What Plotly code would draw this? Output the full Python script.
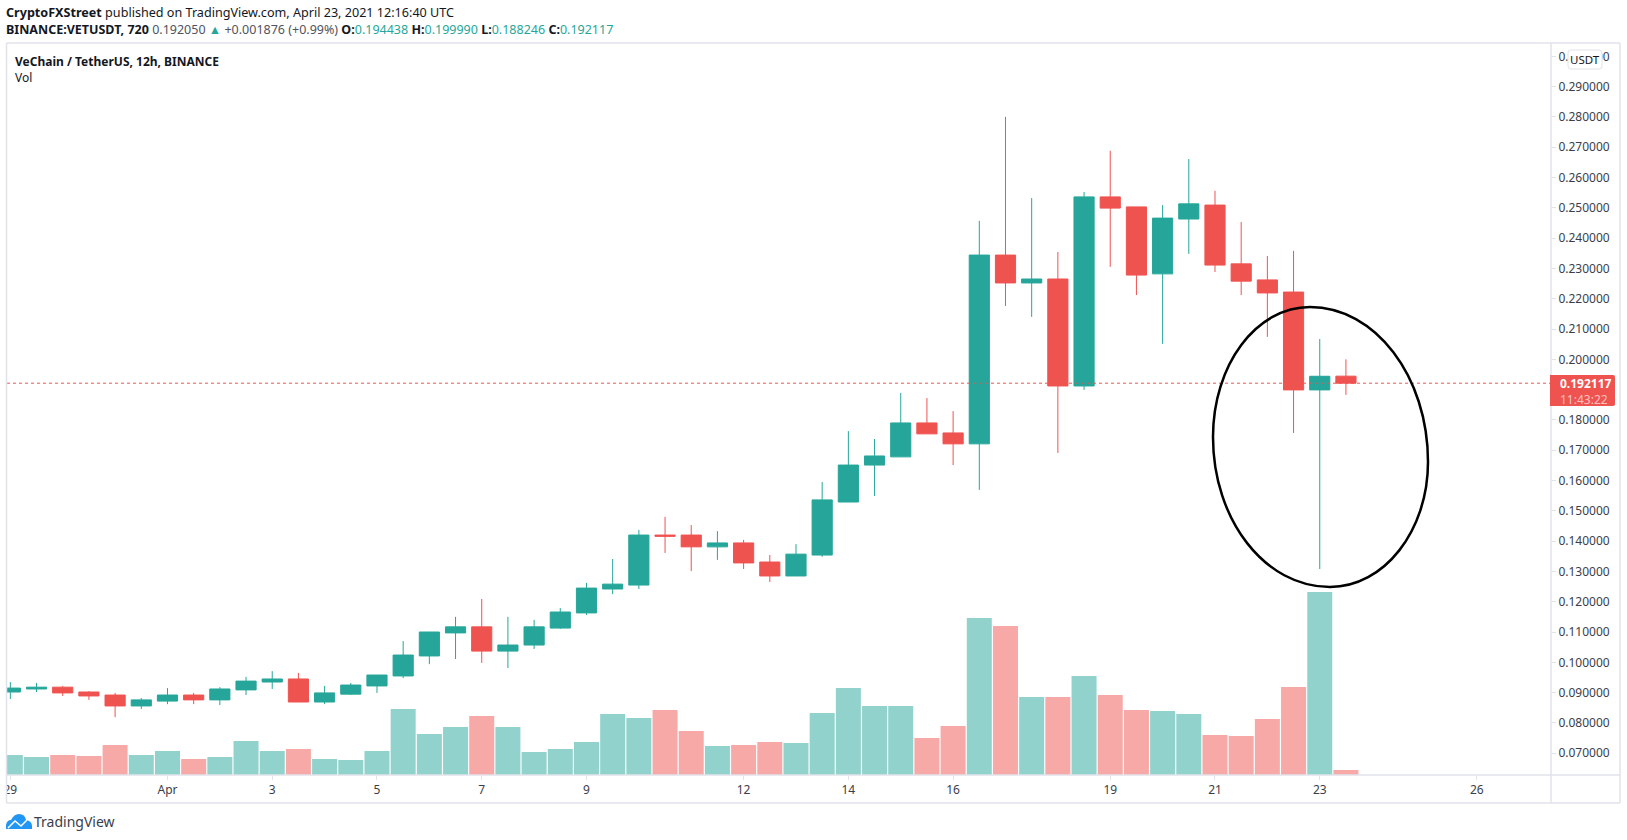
"""VETUSDT 12h, TradingView snapshot (CryptoFXStreet, April 23 2021)."""

import pandas as pd
import plotly.graph_objects as go

candle_time = pd.date_range("2021-03-29", periods=52, freq="12h")

candle_open = [
    0.0902, 0.0912, 0.0918, 0.0902, 0.0892, 0.0856, 0.0872, 0.0892, 0.0876, 0.0909,
    0.0935, 0.0945, 0.0869, 0.0895, 0.0922, 0.0955, 0.1021, 0.1097, 0.1117, 0.1037,
    0.1057, 0.1113, 0.1163, 0.1242, 0.1255, 0.1420, 0.1420, 0.1381, 0.1394, 0.1331,
    0.1285, 0.1354, 0.1529, 0.1651, 0.1678, 0.1790, 0.1757, 0.1721, 0.2344, 0.2252,
    0.2265, 0.1912, 0.2536, 0.2503, 0.2282, 0.2463, 0.2509, 0.2315, 0.2262, 0.2222,
    0.1899, 0.194438,
]
candle_high = [
    0.0935, 0.0932, 0.0922, 0.0905, 0.0899, 0.0882, 0.0915, 0.0899, 0.0918, 0.0952,
    0.0971, 0.0965, 0.0922, 0.0932, 0.0958, 0.1070, 0.1100, 0.1150, 0.1209, 0.1150,
    0.1140, 0.1179, 0.1262, 0.1341, 0.1437, 0.1480, 0.1453, 0.1433, 0.1404, 0.1354,
    0.1390, 0.1595, 0.1763, 0.1737, 0.1889, 0.1872, 0.1829, 0.2457, 0.2800, 0.2532,
    0.2354, 0.2552, 0.2688, 0.2503, 0.2509, 0.2661, 0.2556, 0.2453, 0.2341, 0.2358,
    0.2067, 0.199990,
]
candle_low = [
    0.0879, 0.0902, 0.0889, 0.0876, 0.0819, 0.0846, 0.0862, 0.0862, 0.0859, 0.0892,
    0.0912, 0.0869, 0.0862, 0.0892, 0.0899, 0.0948, 0.0994, 0.1011, 0.0998, 0.0981,
    0.1044, 0.1110, 0.1156, 0.1225, 0.1242, 0.1361, 0.1301, 0.1338, 0.1308, 0.1265,
    0.1285, 0.1348, 0.1529, 0.1549, 0.1678, 0.1754, 0.1651, 0.1569, 0.2176, 0.2140,
    0.1691, 0.1899, 0.2305, 0.2212, 0.2051, 0.2348, 0.2288, 0.2212, 0.2074, 0.1757,
    0.1308, 0.188246,
]
candle_close = [
    0.0915, 0.0918, 0.0899, 0.0889, 0.0856, 0.0876, 0.0892, 0.0876, 0.0912, 0.0938,
    0.0945, 0.0869, 0.0899, 0.0925, 0.0958, 0.1024, 0.1100, 0.1117, 0.1037, 0.1057,
    0.1117, 0.1166, 0.1245, 0.1258, 0.1420, 0.1416, 0.1381, 0.1394, 0.1328, 0.1285,
    0.1357, 0.1536, 0.1651, 0.1681, 0.1790, 0.1754, 0.1721, 0.2344, 0.2252, 0.2265,
    0.1912, 0.2536, 0.2499, 0.2278, 0.2466, 0.2513, 0.2311, 0.2258, 0.2219, 0.1899,
    0.1944, 0.192117,
]
# no scale on the picture, millions of VET is a guess
volume = [
    20, 18, 20, 19, 30, 20, 24, 16, 18, 34,
    24, 26, 16, 15, 24, 66, 41, 48, 59, 48,
    23, 26, 33, 61, 57, 65, 44, 29, 30, 33,
    32, 62, 87, 69, 69, 37, 49, 157, 149, 78,
    78, 99, 80, 65, 64, 61, 40, 39, 56, 88,
    183, 5,
]

last_price = 0.192117
# 0.19 sits behind the last price tag in the original
price_ticks = [0.07, 0.08, 0.09, 0.10, 0.11, 0.12, 0.13, 0.14, 0.15, 0.16, 0.17, 0.18,
               0.20, 0.21, 0.22, 0.23, 0.24, 0.25, 0.26, 0.27, 0.28, 0.29, 0.30]
time_ticks = ["2021-03-29", "2021-04-01", "2021-04-03", "2021-04-05", "2021-04-07",
              "2021-04-09", "2021-04-12", "2021-04-14", "2021-04-16", "2021-04-19",
              "2021-04-21", "2021-04-23", "2021-04-26"]
time_labels = ["29", "Apr", "3", "5", "7", "9", "12", "14", "16", "19", "21", "23", "26"]

W, H = 1627, 840
L, R, T, B = 7, 1551, 43, 775
FONT = "Noto Sans"
GREEN = "#26a69a"
RED = "#ef5350"
GRID = "#e0e3eb"
INK = "#131722"


def fx(x):
    return (x - L) / (R - L)


def fy(y):
    return (B - y) / (B - T)


def path(points):
    return " ".join(
        p if isinstance(p, str) else f"{fx(p[0]):.5f},{fy(p[1]):.5f}" for p in points
    )


def frame_line(x0, y0, x1, y1):
    return dict(type="line", xref="paper", yref="paper", x0=fx(x0), y0=fy(y0),
                x1=fx(x1), y1=fy(y1), line=dict(color=GRID, width=1.5), layer="above")


def label(x, y, text, size=12, color=INK, xanchor="left"):
    return dict(xref="paper", yref="paper", x=fx(x), y=fy(y), text=text, showarrow=False,
                xanchor=xanchor, yanchor="middle", align="left",
                font=dict(family=FONT, size=size, color=color),
                borderpad=0, borderwidth=0)


vol_colors = [
    "rgba(38,166,154,0.5)" if c >= o else "rgba(239,83,80,0.5)"
    for o, c in zip(candle_open, candle_close)
]

fig = go.Figure()
fig.add_trace(go.Bar(x=candle_time, y=volume, marker=dict(color=vol_colors, line_width=0),
                     yaxis="y", name="Vol"))
fig.add_trace(go.Candlestick(
    x=candle_time, open=candle_open, high=candle_high, low=candle_low, close=candle_close,
    yaxis="y2", whiskerwidth=0, name="VETUSDT",
    increasing=dict(line=dict(color=GREEN, width=1), fillcolor=GREEN),
    decreasing=dict(line=dict(color=RED, width=1), fillcolor=RED),
))

shapes = [
    dict(type="line", xref="paper", yref="y2", x0=0, x1=1, y0=last_price, y1=last_price,
         line=dict(color=RED, width=1, dash="dot")),
    # hand drawn circle
    dict(type="path", xref="paper", yref="paper", line=dict(color="black", width=2.5),
         path=path(["M", (1310, 307), "C", (1375, 307), (1428, 376), (1428, 462),
                    "C", (1428, 531), (1384, 587), (1330, 587),
                    "C", (1265, 587), (1213, 520), (1213, 437),
                    "C", (1213, 365), (1256, 307), (1310, 307), "Z"])),
    # "29" runs off the left side of the frame
    dict(type="rect", xref="paper", yref="paper", x0=fx(0), x1=fx(6.5), y0=fy(776), y1=fy(802),
         fillcolor="white", line_width=0, layer="above"),
    frame_line(6.5, 43, 1620, 43),
    frame_line(6.5, 803, 1620, 803),
    frame_line(6.5, 43, 6.5, 803),
    frame_line(1620, 43, 1620, 803),
    frame_line(1551, 43, 1551, 803),
    frame_line(6.5, 775, 1620, 775),
    # unit button
    dict(type="path", xref="paper", yref="paper", fillcolor="white",
         line=dict(color=GRID, width=1), layer="above",
         path=path(["M", (1571, 50), "L", (1599, 50), "Q", (1602, 50), (1602, 53),
                    "L", (1602, 66), "Q", (1602, 69), (1599, 69),
                    "L", (1571, 69), "Q", (1568, 69), (1568, 66),
                    "L", (1568, 53), "Q", (1568, 50), (1571, 50), "Z"])),
    # last price tag
    dict(type="path", xref="paper", yref="paper", fillcolor=RED, line_width=0, layer="above",
         path=path(["M", (1550, 375), "L", (1613, 375), "Q", (1615, 375), (1615, 377),
                    "L", (1615, 404), "Q", (1615, 406), (1613, 406),
                    "L", (1550, 406), "Z"])),
    # TradingView logo
    dict(type="path", xref="paper", yref="paper", fillcolor="#2196f3", line_width=0,
         layer="above",
         path=path(["M", (6, 829), "L", (6, 825), "Q", (7, 820), (11, 820),
                    "Q", (14, 814), (19, 814), "Q", (25, 814), (26, 820),
                    "Q", (32, 821), (32, 826), "L", (32, 829), "Z"])),
    dict(type="path", xref="paper", yref="paper", line=dict(color="white", width=1.5),
         layer="above",
         path=path(["M", (8, 828), "L", (15, 821), "L", (21, 826), "L", (27, 820)])),
]

header_1 = "<b>CryptoFXStreet</b> published on TradingView.com, April 23, 2021 12:16:40 UTC"
teal = f'<span style="color:{GREEN}">'
header_2 = (
    f'<b>BINANCE:VETUSDT, 720</b> <span style="color:#50535e">0.192050</span> '
    f'{teal}▲</span> <span style="color:#50535e">+0.001876 (+0.99%)</span> '
    f"<b>O:</b>{teal}0.194438</span> <b>H:</b>{teal}0.199990</span> "
    f"<b>L:</b>{teal}0.188246</span> <b>C:</b>{teal}0.192117</span>"
)

annotations = [
    label(6, 12.5, header_1, size=12.6),
    label(6, 29, header_2, size=12.5),
    label(15, 61, "<b>VeChain / TetherUS, 12h, BINANCE</b>", size=12),
    label(15, 77, "Vol", size=12),
    label(1585, 60, "USDT", size=11.5, xanchor="center"),
    label(1560, 391,
          '<b>0.192117</b><br><span style="color:rgba(255,255,255,0.65)">11:43:22</span>',
          size=12, color="white"),
    label(34, 821, "TradingView", size=14, color="#3a3e4a"),
]

fig.update_layout(
    width=W, height=H,
    margin=dict(l=L, r=W - R, t=T, b=H - B, pad=0, autoexpand=False),
    paper_bgcolor="white", plot_bgcolor="white",
    showlegend=False, bargap=0.045, boxgap=0.23, boxgroupgap=0,
    font=dict(family=FONT, size=12, color=INK),
    shapes=shapes, annotations=annotations,
    xaxis=dict(
        range=["2021-03-28 22:28", "2021-04-27 09:58"], rangeslider=dict(visible=False),
        tickmode="array", tickvals=time_ticks, ticktext=time_labels,
        ticks="outside", ticklen=4, tickcolor=GRID, showgrid=False, zeroline=False,
        showline=False, tickfont=dict(family=FONT, size=12, color="#3a3e4a"),
    ),
    yaxis=dict(range=[0, 732], visible=False),
    yaxis2=dict(
        overlaying="y", side="right", anchor="x", range=[0.06281, 0.30439],
        tickmode="array", tickvals=price_ticks, tickformat=".6f",
        ticks="outside", ticklen=4, tickcolor=GRID, showgrid=False, zeroline=False,
        showline=False, tickfont=dict(family=FONT, size=12, color="#3a3e4a"),
    ),
)

fig.write_html(
    "out.html",
    config={"displayModeBar": False},
    post_script="document.body.style.margin='0';document.body.style.overflow='hidden';",
)
